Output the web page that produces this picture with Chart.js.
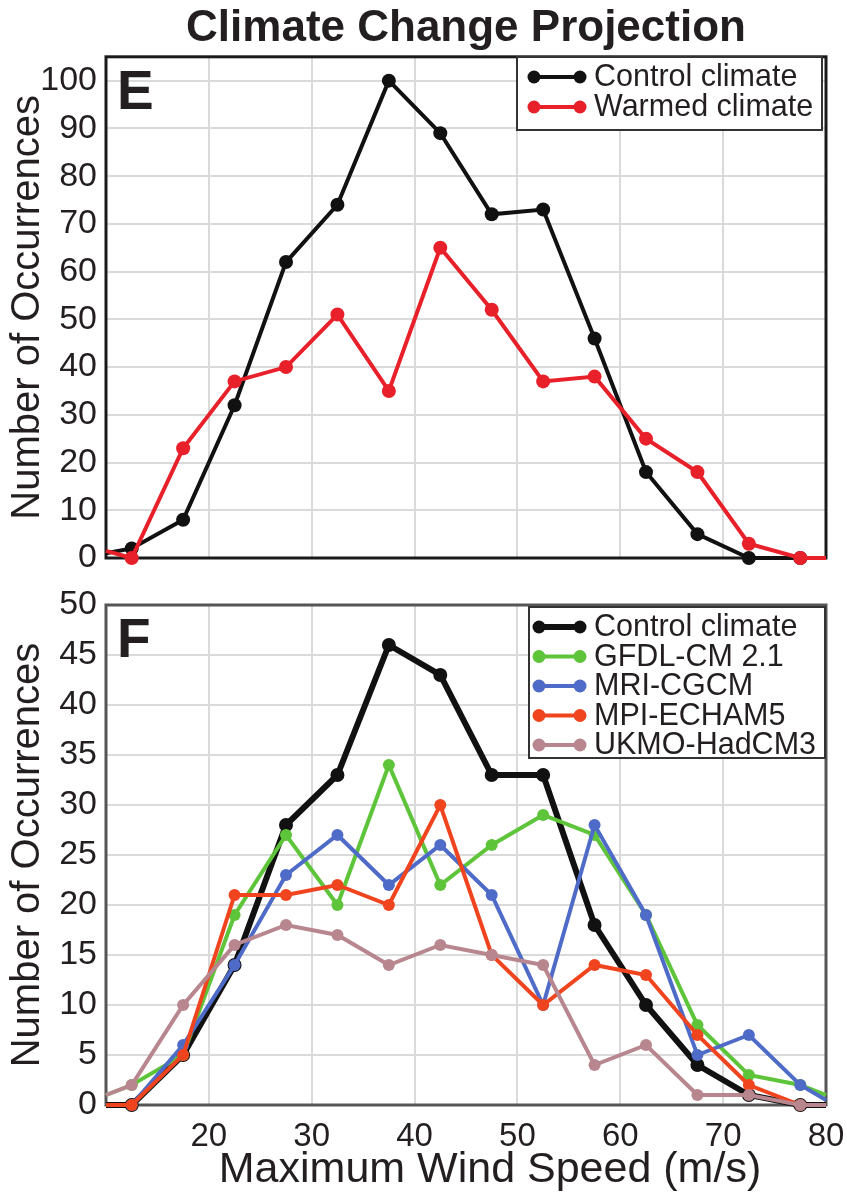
<!DOCTYPE html>
<html>
<head>
<meta charset="utf-8">
<script src="https://cdn.jsdelivr.net/npm/chart.js@4.4.1/dist/chart.umd.min.js"></script>
<style>
  body { margin: 0; background: #fff; }
  #wrap { position: relative; width: 847px; height: 1197px; }
  canvas { position: absolute; left: 0; }
  #chartE { top: 0; }
  #chartF { top: 580px; }
</style>
</head>
<body>
<div id="wrap">
  <canvas id="chartE" width="847" height="580"></canvas>
  <canvas id="chartF" width="847" height="617"></canvas>
</div>
<script>
// wind speed bins (m/s); first and last entries are the plot edges
const speeds = [10, 12.5, 17.5, 22.5, 27.5, 32.5, 37.5, 42.5, 47.5, 52.5, 57.5, 62.5, 67.5, 72.5, 77.5, 80];

// panel E
const controlE = [1, 2, 8, 32, 62, 74, 100, 89, 72, 73, 46, 18, 5, 0, 0, 0];
const warmedE  = [1.5, 0, 23, 37, 40, 51, 35, 65, 52, 37, 38, 25, 18, 3, 0, 0];

// panel F
const controlF = [0, 0, 5, 14, 28, 33, 46, 43, 33, 33, 18, 10, 4, 1, 0, 0];
const gfdl     = [1, 2, 5, 19, 27, 20, 34, 22, 26, 29, 27, 19, 8, 3, 2, 1];
const mri      = [0, 0, 6, 14, 23, 27, 22, 26, 21, 10, 28, 19, 5, 7, 2, 0.5];
const mpi      = [0, 0, 5, 21, 21, 22, 20, 30, 15, 10, 14, 13, 7, 2, 0, 0];
const ukmo     = [1, 2, 10, 16, 18, 17, 14, 16, 15, 14, 4, 6, 1, 1, 0, 0];

const xTicks = [20, 30, 40, 50, 60, 70, 80];
const yTicksE = [0, 10, 20, 30, 40, 50, 60, 70, 80, 90, 100];
const yTicksF = [0, 5, 10, 15, 20, 25, 30, 35, 40, 45, 50];

const FONT = "'Liberation Sans', Arial, Helvetica, sans-serif";

function pts(vals) {
  return vals.map((v, i) => ({ x: speeds[i], y: v }));
}

function series(label, vals, color, width, radius, order) {
  return {
    label: label,
    data: pts(vals),
    borderColor: color,
    backgroundColor: color,
    borderWidth: width,
    pointRadius: ctx => (ctx.dataIndex === 0 || ctx.dataIndex === speeds.length - 1) ? 0 : radius,
    pointBorderWidth: 0,
    pointHoverRadius: radius,
    tension: 0,
    clip: false,
    order: order
  };
}

// frame around the plot area
const framePlugin = {
  id: 'frame',
  beforeDatasetsDraw(chart, args, opts) {
    const a = chart.chartArea, c = chart.ctx;
    c.save();
    c.strokeStyle = opts.color;
    c.lineWidth = opts.width;
    c.strokeRect(a.left, a.top, a.right - a.left, a.bottom - a.top);
    c.restore();
  }
};

// boxed legend with line+dot samples, panel letter, x title
const boxLegend = {
  id: 'boxLegend',
  afterDraw(chart, args, o) {
    const c = chart.ctx, a = chart.chartArea;
    c.save();
    c.font = 'bold 55px ' + FONT;
    c.fillStyle = '#231f20';
    c.textBaseline = 'alphabetic';
    c.fillText(o.letter, a.left + 11, a.top + 52);

    if (o.xTitle) {
      c.font = '43px ' + FONT;
      c.textAlign = 'center';
      c.textBaseline = 'middle';
      c.fillText(o.xTitle, o.xTitleX, o.xTitleY);
      c.textAlign = 'left';
    }

    c.fillStyle = '#fff';
    c.fillRect(o.left, o.top, o.width, o.height);
    c.strokeStyle = '#333';
    c.lineWidth = 2;
    c.strokeRect(o.left, o.top, o.width, o.height);
    c.font = '30.5px ' + FONT;
    c.textBaseline = 'middle';
    chart.data.datasets.forEach((ds, i) => {
      const y = o.firstRow + i * o.rowGap;
      c.strokeStyle = ds.borderColor;
      c.fillStyle = ds.borderColor;
      c.lineWidth = ds.borderWidth;
      c.beginPath();
      c.moveTo(o.x1, y);
      c.lineTo(o.x2, y);
      c.stroke();
      [o.x1, o.x2].forEach(px => {
        c.beginPath();
        c.arc(px, y, 6.5, 0, Math.PI * 2);
        c.fill();
      });
      c.fillStyle = '#231f20';
      c.fillText(ds.label, o.textX, y + 1);
    });
    c.restore();
  }
};

function baseOptions(yMax, yTicks, showX) {
  return {
    responsive: false,
    animation: false,
    layout: { padding: { left: 0, right: 21, top: showX ? 25 : 0, bottom: 0 } },
    plugins: {
      legend: { display: false },
      tooltip: { enabled: false }
    },
    scales: {
      x: {
        type: 'linear',
        min: 10,
        max: 80,
        afterBuildTicks: s => { s.ticks = xTicks.map(v => ({ value: v })); },
        afterFit: s => {
          s.height = showX ? 92 : 22;
          s.paddingLeft = 0;
          s.paddingRight = 0;
        },
        grid: { color: '#dadada', lineWidth: 2, drawTicks: false },
        border: { display: false },
        ticks: {
          display: showX,
          padding: 12,
          color: '#231f20',
          font: { family: FONT, size: 33 },
          maxRotation: 0
        }
      },
      y: {
        min: 0,
        max: yMax,
        afterBuildTicks: s => { s.ticks = yTicks.map(v => ({ value: v })); },
        afterFit: s => {
          s.width = 106;
          s.paddingTop = 0;
          s.paddingBottom = 0;
        },
        grid: { color: '#dadada', lineWidth: 2, drawTicks: false },
        border: { display: false },
        ticks: {
          padding: 9,
          color: '#231f20',
          font: { family: FONT, size: 34 }
        },
        title: {
          display: true,
          text: 'Number of Occurrences',
          color: '#231f20',
          font: { family: FONT, size: 40 },
          padding: { top: 4, bottom: 0 }
        }
      }
    }
  };
}

const optsE = baseOptions(105, yTicksE, false);
optsE.plugins.title = {
  display: true,
  fullSize: false,
  text: 'Climate Change Projection',
  color: '#231f20',
  font: { family: FONT, size: 44, weight: 'bold' },
  padding: { top: 2, bottom: 2 }
};
optsE.plugins.frame = { color: '#1a1a1a', width: 3 };
optsE.plugins.boxLegend = {
  letter: 'E', left: 517, top: 57, width: 305, height: 73,
  firstRow: 77, rowGap: 30, x1: 534, x2: 580, textX: 594
};

new Chart(document.getElementById('chartE').getContext('2d'), {
  type: 'line',
  data: {
    datasets: [
      series('Control climate', controlE, '#111111', 4, 7, 2),
      series('Warmed climate', warmedE, '#e8202a', 4, 7, 1)
    ]
  },
  options: optsE,
  plugins: [framePlugin, boxLegend]
});

const optsF = baseOptions(50, yTicksF, true);
optsF.plugins.frame = { color: '#555555', width: 3 };
optsF.plugins.boxLegend = {
  letter: 'F', left: 529, top: 27, width: 296, height: 151,
  firstRow: 47, rowGap: 29.5, x1: 539, x2: 580, textX: 594,
  xTitle: 'Maximum Wind Speed (m/s)', xTitleX: 490, xTitleY: 590
};

new Chart(document.getElementById('chartF').getContext('2d'), {
  type: 'line',
  data: {
    datasets: [
      series('Control climate', controlF, '#111111', 6, 7, 5),
      series('GFDL-CM 2.1', gfdl, '#5ec43a', 4, 6, 4),
      series('MRI-CGCM', mri, '#4f6bc8', 4, 6, 3),
      series('MPI-ECHAM5', mpi, '#f0441f', 4, 6, 2),
      series('UKMO-HadCM3', ukmo, '#b8868e', 4, 6, 1)
    ]
  },
  options: optsF,
  plugins: [framePlugin, boxLegend]
});
</script>
</body>
</html>
